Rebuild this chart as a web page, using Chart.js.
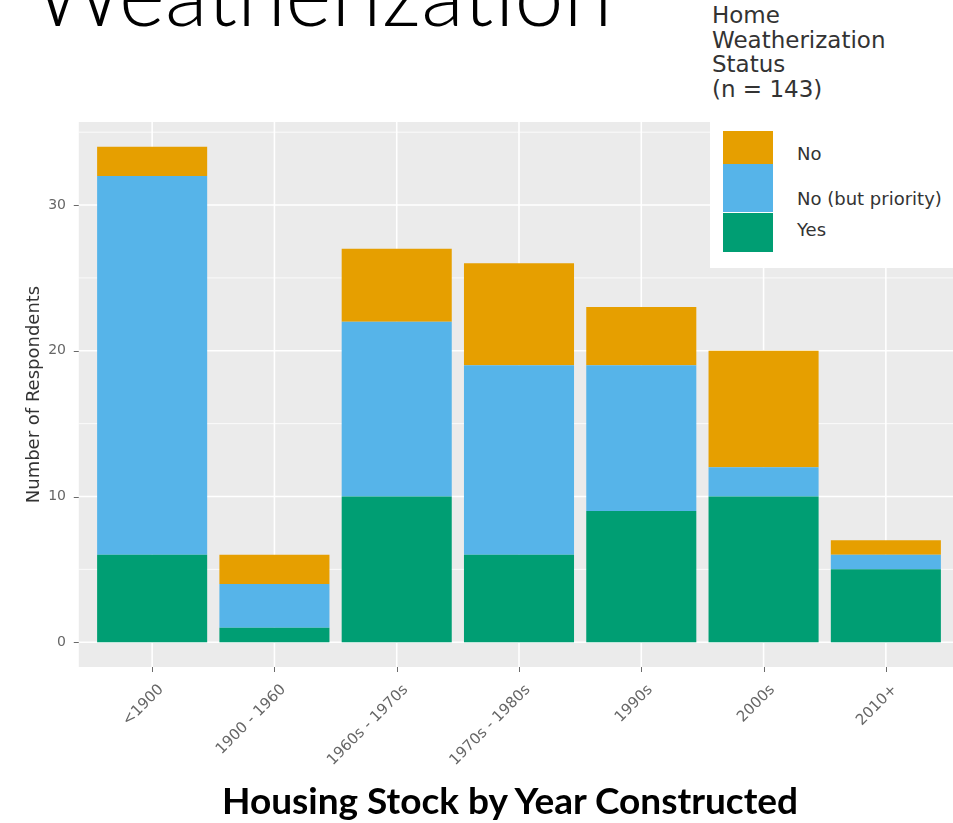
<!DOCTYPE html>
<html>
<head>
<meta charset="utf-8">
<title>Weatherization</title>
<script src="https://cdn.jsdelivr.net/npm/chart.js@4.4.1/dist/chart.umd.min.js"></script>
<style>
    html, body { margin: 0; padding: 0; background: #fff; }
    #wrap { position: relative; width: 953px; height: 823px; overflow: hidden; }
    #chart { position: absolute; left: 0; top: 0; }
    #slideTitle {
        position: absolute; left: 34px; top: -52px;
        font-family: Lato, "Open Sans", sans-serif; font-weight: 300;
        font-size: 88px; line-height: 88px; color: #000; white-space: nowrap;
    }
    #caption {
        position: absolute; left: 222px; top: 781px;
        font-family: Lato, "Open Sans", sans-serif; font-weight: 700;
        font-size: 37px; line-height: 37px; color: #000; white-space: nowrap;
    }
    #legend {
        position: absolute; left: 710px; top: 0; width: 243px; height: 268px;
        background: #fff; z-index: 2;
        font-family: "DejaVu Sans", sans-serif; color: #333;
    }
    #legend .lg-title { position: absolute; left: 2px; top: 3px; font-size: 23px; line-height: 24.5px; }
    #legend .key { position: absolute; left: 13px; width: 50px; }
    #legend .lbl { position: absolute; left: 87px; font-size: 18px; line-height: 20px; white-space: nowrap; }
</style>
</head>
<body>
<div id="wrap">
    <canvas id="chart" width="953" height="823"></canvas>
    <div id="slideTitle">Weatherization</div>
    <div id="legend">
        <div class="lg-title">Home<br>Weatherization<br>Status<br>(n = 143)</div>
        <div class="key" style="top:131px;height:33px;background:#E69F00"></div>
        <div class="key" style="top:164px;height:48px;background:#56B4E9"></div>
        <div class="key" style="top:213px;height:39px;background:#009E73"></div>
        <div class="lbl" style="top:144px">No</div>
        <div class="lbl" style="top:189px">No (but priority)</div>
        <div class="lbl" style="top:220px">Yes</div>
    </div>
    <div id="caption">Housing Stock by Year Constructed</div>
</div>
<script>
    "use strict";

    // 건축 연도 구간
    const categories = ["<1900", "1900 - 1960", "1960s - 1970s", "1970s - 1980s", "1990s", "2000s", "2010+"];

    // 응답자 수 (아래에서 위로 쌓임)
    const yesValues = [6, 1, 10, 6, 9, 10, 5];
    const priorityValues = [26, 3, 12, 13, 10, 2, 1];
    const noValues = [2, 2, 5, 7, 4, 8, 1];

    const yTickValues = [0, 10, 20, 30];
    const yGridValues = [0, 5, 10, 15, 20, 25, 30, 35];

    const COLOR_NO = "#E69F00";
    const COLOR_PRIORITY = "#56B4E9";
    const COLOR_YES = "#009E73";

    /**
     * ggplot 스타일 회색 패널 + 흰색 격자 + 축 눈금 표시.
     * 이산 축 여백(0.6칸)을 맞추려고 chartArea 양옆으로 0.1칸씩 늘려서 그린다.
     */
    const panelPlugin = {
        id: "panelPlugin",
        beforeDatasetsDraw(chart) {
            const { ctx, chartArea, scales } = chart;
            const x = scales.x;
            const y = scales.y;
            const unit = x.getPixelForValue(1) - x.getPixelForValue(0);
            const left = chartArea.left - unit * 0.1;
            const right = chartArea.right + unit * 0.1;

            ctx.save();
            ctx.fillStyle = "#EBEBEB";
            ctx.fillRect(left, chartArea.top, right - left, chartArea.bottom - chartArea.top);

            ctx.strokeStyle = "#FFFFFF";
            yGridValues.forEach((v) => {
                const py = y.getPixelForValue(v);
                ctx.lineWidth = v % 10 === 0 ? 1.6 : 0.8;
                ctx.beginPath();
                ctx.moveTo(left, py);
                ctx.lineTo(right, py);
                ctx.stroke();
            });

            ctx.lineWidth = 1.6;
            categories.forEach((c, i) => {
                const px = x.getPixelForValue(i);
                ctx.beginPath();
                ctx.moveTo(px, chartArea.top);
                ctx.lineTo(px, chartArea.bottom);
                ctx.stroke();
            });

            // 축 눈금
            ctx.strokeStyle = "#6a6a6a";
            ctx.lineWidth = 1;
            yTickValues.forEach((v) => {
                const py = Math.round(y.getPixelForValue(v)) + 0.5;
                ctx.beginPath();
                ctx.moveTo(left - 5, py);
                ctx.lineTo(left, py);
                ctx.stroke();
            });
            categories.forEach((c, i) => {
                const px = Math.round(x.getPixelForValue(i)) + 0.5;
                ctx.beginPath();
                ctx.moveTo(px, chartArea.bottom);
                ctx.lineTo(px, chartArea.bottom + 5);
                ctx.stroke();
            });
            ctx.restore();
        }
    };

    const barOpts = { borderWidth: 0, barPercentage: 0.9, categoryPercentage: 1.0 };

    new Chart(document.getElementById("chart").getContext("2d"), {
        type: "bar",
        data: {
            labels: categories,
            datasets: [
                { label: "Yes", data: yesValues, backgroundColor: COLOR_YES, ...barOpts },
                { label: "No (but priority)", data: priorityValues, backgroundColor: COLOR_PRIORITY, ...barOpts },
                { label: "No", data: noValues, backgroundColor: COLOR_NO, ...barOpts }
            ]
        },
        options: {
            responsive: false,
            animation: false,
            layout: { padding: { left: 0, right: 6, top: 122, bottom: 56 } },
            plugins: {
                legend: { display: false },
                tooltip: { enabled: false }
            },
            scales: {
                x: {
                    stacked: true,
                    offset: true,
                    grid: { display: false },
                    border: { display: false },
                    ticks: {
                        autoSkip: false,
                        minRotation: 45,
                        maxRotation: 45,
                        padding: 6,
                        labelOffset: 9,
                        color: "#666666",
                        font: { family: "DejaVu Sans", size: 15 }
                    },
                    afterFit(scale) { scale.height = 100; }
                },
                y: {
                    stacked: true,
                    min: -1.7,
                    max: 35.7,
                    grid: { display: false },
                    border: { display: false },
                    afterBuildTicks(scale) {
                        scale.ticks = yTickValues.map((v) => ({ value: v }));
                    },
                    ticks: {
                        padding: 17,
                        color: "#666666",
                        font: { family: "DejaVu Sans", size: 14 }
                    },
                    title: {
                        display: true,
                        text: "Number of Respondents",
                        color: "#333333",
                        font: { family: "DejaVu Sans", size: 18 },
                        padding: { top: 24, bottom: 0 }
                    },
                    afterFit(scale) { scale.width = 91; }
                }
            }
        },
        plugins: [panelPlugin]
    });
</script>
</body>
</html>
